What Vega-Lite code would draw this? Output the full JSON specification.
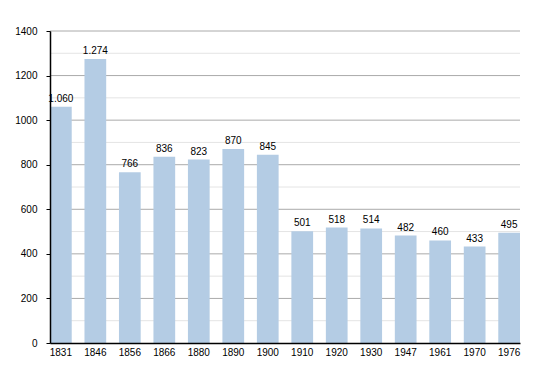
{
  "$schema": "https://vega.github.io/schema/vega-lite/v6.json",
  "width": 470,
  "height": 312,
  "autosize": {"type": "none"},
  "padding": {"left": 50, "top": 31, "right": 30, "bottom": 30},
  "config": {
    "view": {"stroke": null},
    "font": "Liberation Sans",
    "locale": {"number": {"decimal": ",", "thousands": ".", "grouping": [3], "currency": ["", " €"]}}
  },
  "data": {"values": [
    {"year": "1831", "pop": 1060},
    {"year": "1846", "pop": 1274},
    {"year": "1856", "pop": 766},
    {"year": "1866", "pop": 836},
    {"year": "1880", "pop": 823},
    {"year": "1890", "pop": 870},
    {"year": "1900", "pop": 845},
    {"year": "1910", "pop": 501},
    {"year": "1920", "pop": 518},
    {"year": "1930", "pop": 514},
    {"year": "1947", "pop": 482},
    {"year": "1961", "pop": 460},
    {"year": "1970", "pop": 433},
    {"year": "1976", "pop": 495}
  ]},
  "layer": [
    {
      "mark": {"type": "rule", "color": "#e4e4e4", "strokeWidth": 1},
      "data": {"values": [{"v": 100}, {"v": 300}, {"v": 500}, {"v": 700}, {"v": 900}, {"v": 1100}, {"v": 1300}]},
      "encoding": {"y": {"field": "v", "type": "quantitative"}}
    },
    {
      "mark": {"type": "rule", "color": "#aaaaaa", "strokeWidth": 1},
      "data": {"values": [{"v": 200}, {"v": 400}, {"v": 600}, {"v": 800}, {"v": 1000}, {"v": 1200}, {"v": 1400}]},
      "encoding": {"y": {"field": "v", "type": "quantitative"}}
    },
    {
      "mark": {"type": "bar", "color": "#b4cce4"},
      "encoding": {
        "x": {"field": "year", "type": "nominal", "sort": null,
          "scale": {"paddingInner": 0.37, "paddingOuter": 0},
          "axis": {"title": null, "labelAngle": 0, "labelFontSize": 10, "labelColor": "#000", "ticks": false, "labelPadding": 4, "domainColor": "#000", "domainWidth": 1.5, "zindex": 1}},
        "y": {"field": "pop", "type": "quantitative", "scale": {"domain": [0, 1400], "nice": false},
          "axis": {"title": null, "values": [0, 100, 200, 300, 400, 500, 600, 700, 800, 900, 1000, 1100, 1200, 1300, 1400],
            "format": "d",
            "labelExpr": "datum.value % 200 === 0 ? datum.label : ''",
            "grid": false,
            "tickSize": {"condition": {"test": "datum.value % 200 === 0", "value": 4}, "value": 2},
            "labelFontSize": 10, "labelColor": "#000", "tickColor": "#000", "domainColor": "#000", "domainWidth": 1.5, "labelPadding": 9, "zindex": 1}}
      }
    },
    {
      "mark": {"type": "text", "dy": -8, "fontSize": 10, "color": "#000"},
      "encoding": {
        "x": {"field": "year", "type": "nominal", "sort": null},
        "y": {"field": "pop", "type": "quantitative"},
        "text": {"field": "pop", "type": "quantitative", "format": ",d"}
      }
    }
  ]
}
